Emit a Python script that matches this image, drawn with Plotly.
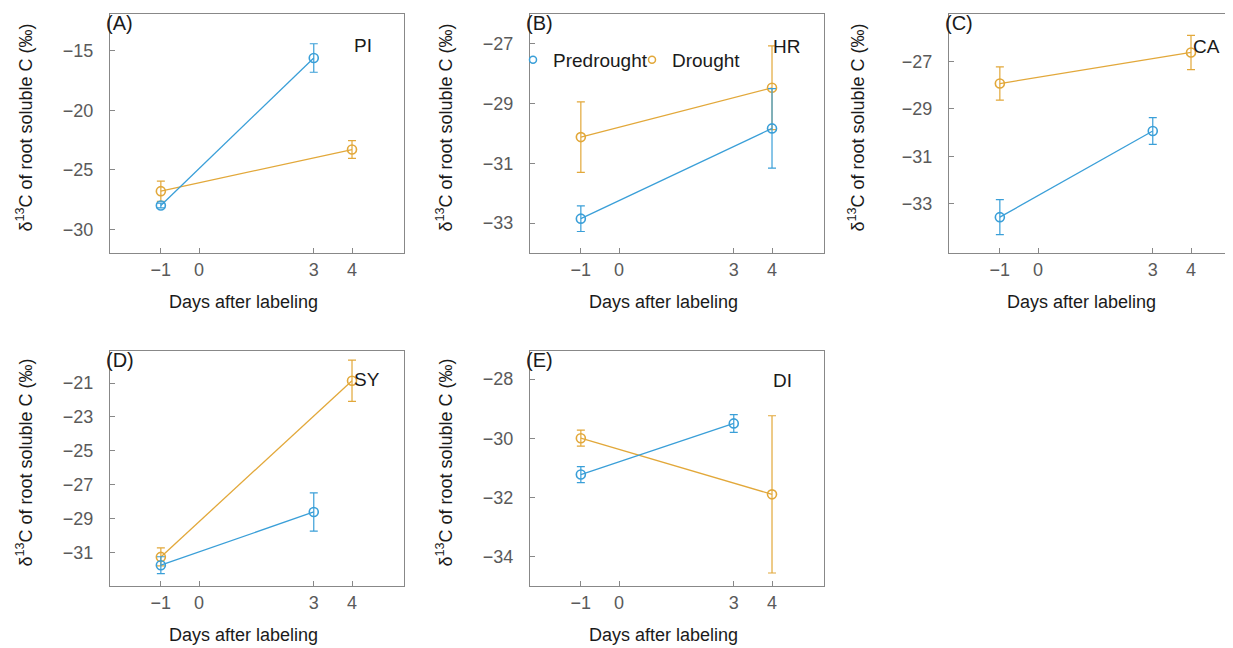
import plotly.graph_objects as go

W, H = 1233, 648

panels = ["A", "B", "C", "D", "E"]
species = ["PI", "HR", "CA", "SY", "DI"]

pre_days = [[-1, 3], [-1, 4], [-1, 3], [-1, 3], [-1, 3]]
pre_mean = [[-28.0, -15.6], [-32.85, -29.83], [-33.56, -29.93], [-31.77, -28.62], [-31.23, -29.5]]
pre_se = [[0.2, 1.2], [0.43, 1.33], [0.74, 0.56], [0.5, 1.13], [0.27, 0.3]]

dr_days = [[-1, 4], [-1, 4], [-1, 4], [-1, 4], [-1, 4]]
dr_mean = [[-26.8, -23.3], [-30.12, -28.47], [-27.93, -26.62], [-31.28, -20.86], [-30.0, -31.9]]
dr_se = [[0.85, 0.75], [1.18, 1.4], [0.7, 0.72], [0.53, 1.22], [0.27, 2.66]]

y_ranges = [[-32.0, -11.9], [-34.0, -26.0], [-35.07, -25.0], [-33.0, -19.1], [-35.0, -27.05]]
y_ticks = [[-30, -25, -20, -15], [-33, -31, -29, -27], [-33, -31, -29, -27],
           [-31, -29, -27, -25, -23, -21], [-34, -32, -30, -28]]
x_ticks = [-1, 0, 3, 4]
x_range = [-2.33, 5.36]

BLUE = "#3a9fd8"
ORANGE = "#e2a83a"
FONT = "Liberation Sans, Arial, sans-serif"

# box positions in pixels (left, top, right, bottom)
boxes = [(102, 6, 396, 245), (522, 6, 816, 245), (941, 6, 1233, 245),
         (102, 343, 396, 578), (522, 343, 816, 578)]

OFFY = 7  # annotation vertical offset correction
OFFX = 9  # annotation horizontal offset correction


def px(x):
    return x / W


def py(y):
    return 1 - y / H


fig = go.Figure()
layout = dict(width=W, height=H, margin=dict(l=0, r=0, t=0, b=0),
              plot_bgcolor="white", paper_bgcolor="white",
              font=dict(family=FONT, size=18, color="#222222"),
              showlegend=True)
annotations = []

for i in range(5):
    xa = "x" if i == 0 else f"x{i+1}"
    ya = "y" if i == 0 else f"y{i+1}"
    xk = "xaxis" if i == 0 else f"xaxis{i+1}"
    yk = "yaxis" if i == 0 else f"yaxis{i+1}"
    l, t, r, b = boxes[i]
    x_rng = list(x_range)
    if i == 2:
        x_rng = [x_range[0], x_range[1] - 2 / 38.3]
    common = dict(showline=True, linecolor="#888888", linewidth=1.2, mirror=True,
                  ticks="inside", ticklen=5, tickcolor="#888888", tickwidth=1,
                  showgrid=False, zeroline=False,
                  tickfont=dict(family=FONT, size=18, color="#5a5a5a"))
    layout[xk] = dict(common, domain=[px(l), min(px(r), 1.0)], range=x_rng,
                      tickvals=x_ticks, anchor=ya, ticklabelstandoff=0)
    layout[yk] = dict(common, domain=[py(b), py(t)], range=y_ranges[i],
                      tickvals=y_ticks[i], anchor=xa, ticklabelstandoff=12,
                      ticksuffix="\u00a0")

    fig.add_trace(go.Scatter(
        x=dr_days[i], y=dr_mean[i], xaxis=xa, yaxis=ya, mode="lines+markers",
        line=dict(color=ORANGE, width=1.3),
        marker=dict(symbol="circle-open", size=9, color=ORANGE, line=dict(width=1.6)),
        error_y=dict(type="data", array=dr_se[i], color=ORANGE, thickness=1.2, width=4),
        showlegend=False, name="Drought"))
    fig.add_trace(go.Scatter(
        x=pre_days[i], y=pre_mean[i], xaxis=xa, yaxis=ya, mode="lines+markers",
        line=dict(color=BLUE, width=1.3),
        marker=dict(symbol="circle-open", size=9, color=BLUE, line=dict(width=1.6)),
        error_y=dict(type="data", array=pre_se[i], color=BLUE, thickness=1.2, width=4),
        showlegend=False, name="Predrought"))

    # panel letter
    annotations.append(dict(text=f"({panels[i]})", x=px(l + 3 - OFFX), y=py(t + 16 - OFFY),
                            xref="paper", yref="paper", xanchor="left", yanchor="middle",
                            showarrow=False, font=dict(size=20, color="#1a1a1a")))
    # species label
    sx = {0: 353, 1: 772, 2: 1192, 3: 353, 4: 772}[i]
    sy = {0: 44, 1: 45, 2: 45, 3: 378, 4: 379}[i]
    annotations.append(dict(text=species[i], x=px(sx - OFFX), y=py(sy - OFFY), xref="paper", yref="paper",
                            xanchor="left", yanchor="middle", showarrow=False,
                            font=dict(size=19, color="#1a1a1a")))
    # axis titles
    xt_y = 301 if i < 3 else 634
    annotations.append(dict(text="Days after labeling", x=px((l + min(r, 1235)) / 2 - 5 - OFFX),
                            y=py(xt_y - OFFY),
                            xref="paper", yref="paper", xanchor="center", yanchor="middle",
                            showarrow=False, font=dict(size=18, color="#1a1a1a")))
    ytx = {0: 26, 1: 446, 2: 858, 3: 26, 4: 446}[i]
    annotations.append(dict(text="δ<sup>13</sup>C of root soluble C (‰)", x=px(ytx - OFFY - 2),
                            y=py((t + b) / 2 - 6),
                            xref="paper", yref="paper", xanchor="center", yanchor="middle",
                            textangle=-90, showarrow=False, font=dict(size=18, color="#1a1a1a")))

# legend entries (legend-only traces), one legend each for exact placement
fig.add_trace(go.Scatter(x=[None], y=[None], xaxis="x2", yaxis="y2", mode="markers",
                         marker=dict(symbol="circle-open", size=7, color=BLUE, line=dict(width=1.5)),
                         name="Predrought", showlegend=True, legend="legend"))
fig.add_trace(go.Scatter(x=[None], y=[None], xaxis="x2", yaxis="y2", mode="markers",
                         marker=dict(symbol="circle-open", size=7, color=ORANGE, line=dict(width=1.5)),
                         name="Drought", showlegend=True, legend="legend2"))

leg_common = dict(orientation="h", xanchor="left", yanchor="middle",
                  bgcolor="rgba(0,0,0,0)", font=dict(size=19, color="#1a1a1a"),
                  itemwidth=30)
layout["legend"] = dict(leg_common, x=px(505), y=py(52))
layout["legend2"] = dict(leg_common, x=px(624), y=py(52))
layout["annotations"] = annotations
fig.update_layout(**layout)

fig.write_html("out.html")
